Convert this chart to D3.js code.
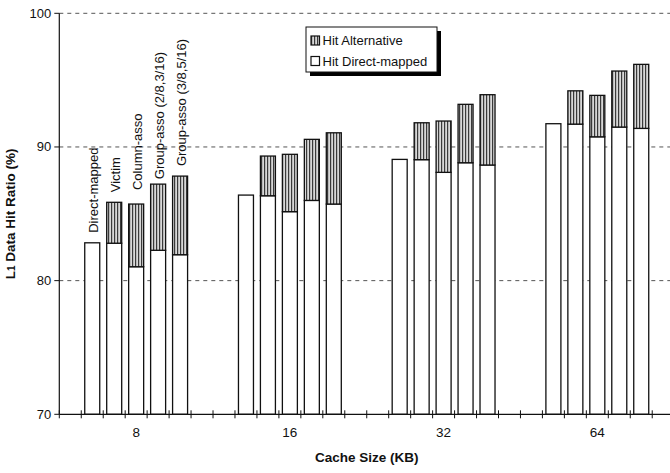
<!DOCTYPE html>
<html>
<head>
<meta charset="utf-8">
<script src="https://cdn.jsdelivr.net/npm/d3@7"></script>
<style>
  body { margin: 0; background: #fff; }
  svg { display: block; font-family: "Liberation Sans", Arial, sans-serif; }
</style>
</head>
<body>
<div id="chart"></div>
<script>
const cacheSizes = ["8", "16", "32", "64"];
const schemes = ["Direct-mapped", "Victim", "Column-asso", "Group-asso (2/8,3/16)", "Group-asso (3/8,5/16)"];

// rows = cache size, columns = scheme
const hitDirect = [
    [82.83, 82.80, 81.04, 82.27, 81.94],
    [86.40, 86.35, 85.16, 86.00, 85.73],
    [89.07, 89.05, 88.10, 88.82, 88.65],
    [91.74, 91.71, 90.76, 91.49, 91.39]
];
const hitAlternative = [
    [0, 3.06, 4.69, 4.95, 5.88],
    [0, 2.97, 4.29, 4.57, 5.33],
    [0, 2.76, 3.84, 4.37, 5.26],
    [0, 2.49, 3.10, 4.19, 4.79]
];
const yTicks = [70, 80, 90, 100];

const width = 670, height = 473;
const plot = { left: 59.3, top: 13.3, bottom: 414.3 };
const slotsPerGroup = 7;   // 5 bars + 2 empty slots
const totalSlots = 28;
const slotW = 21.96;

const svg = d3.select("#chart").append("svg")
    .attr("width", width)
    .attr("height", height);

const defs = svg.append("defs");
const pat = defs.append("pattern")
    .attr("id", "stripes")
    .attr("patternUnits", "userSpaceOnUse")
    .attr("width", 3)
    .attr("height", 4);
pat.append("rect").attr("width", 3).attr("height", 4).attr("fill", "#d8d8d8");
pat.append("rect").attr("x", 0).attr("width", 1.2).attr("height", 4).attr("fill", "#3a3a3a");

const x = d3.scaleLinear()
    .domain([0, totalSlots])
    .range([plot.left, plot.left + totalSlots * slotW]);

const y = d3.scaleLinear()
    .domain([70, 100])
    .range([plot.bottom, plot.top]);

// gridlines
svg.append("g")
    .selectAll("line")
    .data(yTicks.filter(d => d > 70))
    .join("line")
    .attr("x1", plot.left)
    .attr("x2", width)
    .attr("y1", d => y(d))
    .attr("y2", d => y(d))
    .attr("stroke", "#555")
    .attr("stroke-width", 1)
    .attr("stroke-dasharray", "4,4");

// flatten to bar records
const bars = [];
cacheSizes.forEach((size, gi) => {
    schemes.forEach((scheme, si) => {
        bars.push({
            size, scheme, si,
            slot: gi * slotsPerGroup + si + 1,
            direct: hitDirect[gi][si],
            alt: hitAlternative[gi][si]
        });
    });
});

const barW = 15;
const barX = d => x(d.slot + 0.5) - barW / 2;

svg.append("g")
    .selectAll("rect")
    .data(bars)
    .join("rect")
    .attr("x", barX)
    .attr("y", d => y(d.direct))
    .attr("width", barW)
    .attr("height", d => y(70) - y(d.direct))
    .attr("fill", "#fff")
    .attr("stroke", "#111")
    .attr("stroke-width", 1.3);

svg.append("g")
    .selectAll("rect")
    .data(bars.filter(d => d.alt > 0))
    .join("rect")
    .attr("x", barX)
    .attr("y", d => y(d.direct + d.alt))
    .attr("width", barW)
    .attr("height", d => y(d.direct) - y(d.direct + d.alt))
    .attr("fill", "url(#stripes)")
    .attr("stroke", "#111")
    .attr("stroke-width", 1.3);

// scheme labels above the 8 KB group
const labelGap = [10, 10, 14, 5, 10];
svg.append("g")
    .selectAll("text")
    .data(bars.filter(d => d.size === "8"))
    .join("text")
    .attr("transform", d => `translate(${x(d.slot + 0.5) + 5.5}, ${y(d.direct + d.alt) - labelGap[d.si]}) rotate(-90)`)
    .attr("font-size", 13)
    .attr("fill", "#111")
    .text(d => d.scheme);

// y axis
svg.append("line")
    .attr("x1", plot.left).attr("x2", plot.left)
    .attr("y1", y(100)).attr("y2", y(70))
    .attr("stroke", "#111").attr("stroke-width", 1.2);

const yAxis = svg.append("g");
yAxis.selectAll("line")
    .data(yTicks)
    .join("line")
    .attr("x1", plot.left - 5).attr("x2", plot.left)
    .attr("y1", d => y(d)).attr("y2", d => y(d))
    .attr("stroke", "#111");
yAxis.selectAll("text")
    .data(yTicks)
    .join("text")
    .attr("x", plot.left - 8)
    .attr("y", d => y(d) + 4.5)
    .attr("text-anchor", "end")
    .attr("font-size", 13)
    .attr("fill", "#111")
    .text(d => d);

// x axis
svg.append("line")
    .attr("x1", plot.left).attr("x2", width)
    .attr("y1", y(70)).attr("y2", y(70))
    .attr("stroke", "#111").attr("stroke-width", 1.2);

svg.append("g")
    .selectAll("line")
    .data(d3.range(0, totalSlots))
    .join("line")
    .attr("x1", d => x(d)).attr("x2", d => x(d))
    .attr("y1", y(70) - 4).attr("y2", y(70) + 4)
    .attr("stroke", "#111");

svg.append("g")
    .selectAll("text")
    .data(cacheSizes)
    .join("text")
    .attr("x", (d, i) => x(i * slotsPerGroup + 3.5))
    .attr("y", 437)
    .attr("text-anchor", "middle")
    .attr("font-size", 13.5)
    .attr("fill", "#111")
    .text(d => d);

// axis titles
svg.append("text")
    .attr("x", (plot.left + x(totalSlots)) / 2)
    .attr("y", 462)
    .attr("text-anchor", "middle")
    .attr("font-size", 13.5)
    .attr("font-weight", "bold")
    .attr("fill", "#111")
    .text("Cache Size (KB)");

const yTitle = svg.append("text")
    .attr("transform", `translate(15, ${(plot.top + plot.bottom) / 2}) rotate(-90)`)
    .attr("text-anchor", "middle")
    .attr("font-size", 13.5)
    .attr("font-weight", "bold")
    .attr("fill", "#111");
yTitle.append("tspan").text("L");
yTitle.append("tspan").attr("font-size", 10).text("1");
yTitle.append("tspan").text(" Data Hit Ratio (%)");

// legend
const lg = svg.append("g").attr("transform", "translate(306, 27)");
lg.append("rect")
    .attr("x", 4).attr("y", 4)
    .attr("width", 131).attr("height", 45)
    .attr("fill", "#000");
lg.append("rect")
    .attr("width", 131).attr("height", 45)
    .attr("fill", "#fff")
    .attr("stroke", "#111");

const legendItems = [
    { label: "Hit Alternative", fill: "url(#stripes)" },
    { label: "Hit Direct-mapped", fill: "#fff" }
];
const li = lg.selectAll("g.item")
    .data(legendItems)
    .join("g")
    .attr("class", "item")
    .attr("transform", (d, i) => `translate(5, ${9 + i * 20.5})`);
li.append("rect")
    .attr("width", 8.5).attr("height", 9)
    .attr("fill", d => d.fill)
    .attr("stroke", "#111")
    .attr("stroke-width", 1.2);
li.append("text")
    .attr("x", 11.5)
    .attr("y", 9)
    .attr("font-size", 13)
    .attr("fill", "#111")
    .text(d => d.label);
</script>
</body>
</html>
